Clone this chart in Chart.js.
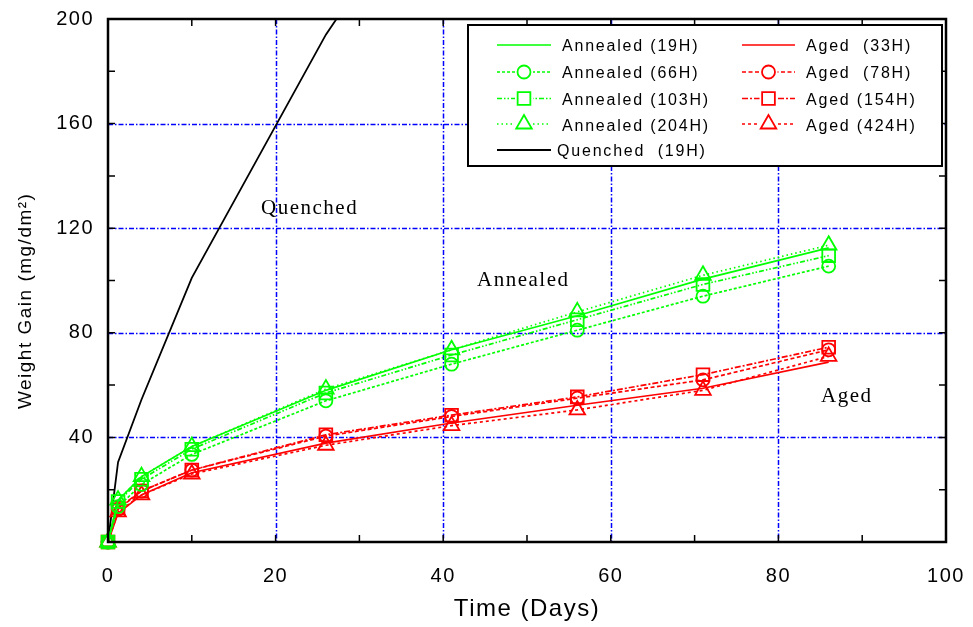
<!DOCTYPE html>
<html>
<head>
<meta charset="utf-8">
<script src="https://cdn.jsdelivr.net/npm/chart.js"></script>
<style>
  html, body { margin: 0; padding: 0; background: #fff; }
  #wrap { width: 973px; height: 627px; }
</style>
</head>
<body>
<div id="wrap"><canvas id="myChart"></canvas></div>
<script>
// sampling days (all annealed / aged runs)
const days = [0, 1.2, 4, 10, 26, 41, 56, 71, 86];

const annealed19H  = [0, 16, 25, 36.5, 58, 73.5, 86.5, 100.5, 112.5];
const annealed66H  = [0, 13.5, 22, 33.5, 54, 68, 81, 94, 105.5];
const annealed103H = [0, 15.5, 24, 35.5, 57, 71.5, 85, 98.5, 109.5];
const annealed204H = [0, 16, 25, 36.5, 58.5, 73.5, 88, 102, 113.5];

const aged33H  = [0, 11, 18, 26.5, 37.8, 45.5, 52.3, 58.8, 68.8];
const aged78H  = [0, 12.5, 19.5, 27.5, 40.5, 48, 55, 62, 73.5];
const aged154H = [0, 13, 19.5, 27.5, 41, 48.5, 55.5, 64, 74.5];
const aged424H = [0, 11.5, 18, 26, 37, 44.5, 50.5, 58, 71];

const quenchedDays = [0, 1.2, 4, 10, 26, 30];
const quenched19H  = [0, 30.5, 54.5, 101, 194, 213];

const xTicks = [0, 20, 40, 60, 80, 100];
const yTicks = [0, 40, 80, 120, 160, 200];
const xGrid = [20, 40, 60, 80];
const yGrid = [40, 80, 120, 160];

const GREEN = '#00ff00', RED = '#ff0000', BLUE = '#0000ff';

function pts(xs, ys) {
  return xs.map((x, i) => ({x: x, y: ys[i]}));
}

// legend rows: [label, color, dash, pointStyle, radius, values]
const series = [
  ['Annealed (19H)',  GREEN, [],              false,      0,   annealed19H],
  ['Annealed (66H)',  GREEN, [3, 2],          'circle',   6.5, annealed66H],
  ['Annealed (103H)', GREEN, [5, 2, 1.5, 2, 1.5, 2], 'rect', 9, annealed103H],
  ['Annealed (204H)', GREEN, [1.5, 3],        'triangle', 9,   annealed204H],
  ['Aged  (33H)',     RED,   [],              false,      0,   aged33H],
  ['Aged  (78H)',     RED,   [4, 2.5],        'circle',   6.5, aged78H],
  ['Aged (154H)',     RED,   [6, 2, 2, 2],    'rect',     9,   aged154H],
  ['Aged (424H)',     RED,   [3, 3],          'triangle', 9,   aged424H]
];

const datasets = series.map(s => ({
  label: s[0],
  data: pts(days, s[5]),
  borderColor: s[1],
  borderWidth: 1.7,
  borderDash: s[2],
  pointStyle: s[3] || 'circle',
  pointRadius: s[4],
  pointBorderWidth: 1.8,
  pointBorderColor: s[1],
  pointBackgroundColor: 'rgba(0,0,0,0)',
  tension: 0,
  clip: false
}));

datasets.push({
  label: 'Quenched  (19H)',
  data: pts(quenchedDays, quenched19H),
  borderColor: '#000',
  borderWidth: 1.8,
  pointRadius: 0,
  tension: 0
});

function marker(ctx, style, r, x, y, color) {
  if (!style) return;
  ctx.save();
  ctx.setLineDash([]);
  ctx.strokeStyle = color;
  ctx.lineWidth = 1.8;
  ctx.beginPath();
  if (style === 'circle') {
    ctx.arc(x, y, r, 0, Math.PI * 2);
  } else if (style === 'rect') {
    const h = r * Math.SQRT1_2;
    ctx.rect(x - h, y - h, 2 * h, 2 * h);
  } else {
    ctx.moveTo(x, y - r);
    ctx.lineTo(x - r * 0.866, y + r / 2);
    ctx.lineTo(x + r * 0.866, y + r / 2);
    ctx.closePath();
  }
  ctx.stroke();
  ctx.restore();
}

const decor = {
  id: 'decor',
  beforeDraw(chart) {
    chart.ctx.letterSpacing = '1.5px';
  },
  beforeDatasetsDraw(chart) {
    const ctx = chart.ctx, a = chart.chartArea;
    const xs = chart.scales.x, ys = chart.scales.y;
    ctx.save();
    ctx.strokeStyle = BLUE;
    ctx.lineWidth = 1.5;
    ctx.setLineDash([5, 2, 1.5, 2]);
    xGrid.forEach(v => {
      const px = Math.round(xs.getPixelForValue(v)) + 0.5;
      ctx.beginPath(); ctx.moveTo(px, a.top); ctx.lineTo(px, a.bottom); ctx.stroke();
    });
    yGrid.forEach(v => {
      const py = Math.round(ys.getPixelForValue(v)) + 0.5;
      ctx.beginPath(); ctx.moveTo(a.left, py); ctx.lineTo(a.right, py); ctx.stroke();
    });
    ctx.restore();
  },
  afterDatasetsDraw(chart) {
    const ctx = chart.ctx, a = chart.chartArea;
    const xs = chart.scales.x, ys = chart.scales.y;
    ctx.save();
    ctx.setLineDash([]);
    ctx.strokeStyle = '#000';

    // inward ticks on all four sides
    ctx.lineWidth = 1.5;
    const tl = 7;
    for (let v = 10; v < 100; v += 10) {
      const px = xs.getPixelForValue(v);
      ctx.beginPath();
      ctx.moveTo(px, a.bottom); ctx.lineTo(px, a.bottom - tl);
      ctx.moveTo(px, a.top); ctx.lineTo(px, a.top + tl);
      ctx.stroke();
    }
    for (let v = 20; v < 200; v += 20) {
      const py = ys.getPixelForValue(v);
      ctx.beginPath();
      ctx.moveTo(a.left, py); ctx.lineTo(a.left + tl, py);
      ctx.moveTo(a.right, py); ctx.lineTo(a.right - tl, py);
      ctx.stroke();
    }

    // frame
    ctx.lineWidth = 2.5;
    ctx.strokeRect(a.left, a.top, a.right - a.left, a.bottom - a.top);

    // curve notes
    ctx.fillStyle = '#000';
    ctx.font = '21px "Liberation Serif", "Times New Roman", serif';
    ctx.letterSpacing = '1.5px';
    ctx.textAlign = 'left';
    ctx.textBaseline = 'alphabetic';
    ctx.fillText('Quenched', 261, 214);
    ctx.fillText('Annealed', 477, 286);
    ctx.fillText('Aged', 821, 402);

    // legend box
    const L = 468, T = 25, R = 942, B = 166;
    ctx.fillStyle = '#fff';
    ctx.fillRect(L, T, R - L, B - T);
    ctx.lineWidth = 2;
    ctx.strokeRect(L, T, R - L, B - T);

    const rowsY = [45, 72, 98.5, 124];
    const textY = [46.5, 73.5, 100.5, 126.5];
    ctx.font = '16px "Liberation Sans", Arial, sans-serif';
    ctx.letterSpacing = '1.8px';
    ctx.textBaseline = 'middle';
    series.forEach((s, i) => {
      const col = i < 4 ? 0 : 1;
      const row = i % 4;
      const x0 = col ? 742 : 497, x1 = col ? 795 : 551, tx = col ? 806 : 562;
      const y = rowsY[row];
      ctx.strokeStyle = s[1];
      ctx.lineWidth = 1.7;
      ctx.setLineDash(s[2]);
      ctx.beginPath(); ctx.moveTo(x0, y); ctx.lineTo(x1, y); ctx.stroke();
      if (s[3]) {
        ctx.fillStyle = '#fff';
        ctx.fillRect((x0 + x1) / 2 - 9, y - 9, 18, 18);
        marker(ctx, s[3], s[4], (x0 + x1) / 2, y, s[1]);
      }
      ctx.fillStyle = '#000';
      ctx.fillText(s[0], tx, textY[row]);
    });
    ctx.setLineDash([]);
    ctx.strokeStyle = '#000';
    ctx.lineWidth = 2;
    ctx.beginPath(); ctx.moveTo(497, 150); ctx.lineTo(551, 150); ctx.stroke();
    ctx.fillText('Quenched  (19H)', 557, 152);
    ctx.restore();
  }
};

new Chart(document.getElementById('myChart'), {
  type: 'line',
  data: { datasets: datasets },
  options: {
    responsive: true,
    maintainAspectRatio: false,
    animation: false,
    devicePixelRatio: 1,
    layout: { padding: { top: 19, right: 27, left: 0, bottom: 0 } },
    plugins: { legend: { display: false }, tooltip: { enabled: false } },
    scales: {
      x: {
        type: 'linear',
        min: 0, max: 100,
        afterBuildTicks: s => { s.ticks = xTicks.map(v => ({value: v})); },
        afterFit: s => { s.height = 85; s.paddingLeft = 0; s.paddingRight = 0; },
        grid: { display: false, drawTicks: false },
        border: { display: false },
        ticks: { color: '#000', padding: 22, font: { size: 20, family: '"Liberation Sans", Arial, sans-serif' } },
        title: { display: true, text: 'Time (Days)', color: '#000', padding: { top: 0, bottom: 3 },
                 font: { size: 24, family: '"Liberation Sans", Arial, sans-serif' } }
      },
      y: {
        min: 0, max: 200,
        afterBuildTicks: s => { s.ticks = yTicks.map(v => ({value: v})); },
        afterFit: s => { s.width = 108; s.paddingTop = 0; s.paddingBottom = 0; },
        grid: { display: false, drawTicks: false },
        border: { display: false },
        ticks: { color: '#000', padding: 14, callback: v => v === 0 ? '' : v,
                 font: { size: 20, family: '"Liberation Sans", Arial, sans-serif' } },
        title: { display: true, text: 'Weight Gain (mg/dm\u00b2)      ', color: '#000', padding: { top: 14, bottom: 0 },
                 font: { size: 19, family: '"Liberation Sans", Arial, sans-serif' } }
      }
    }
  },
  plugins: [decor]
});
</script>
</body>
</html>
